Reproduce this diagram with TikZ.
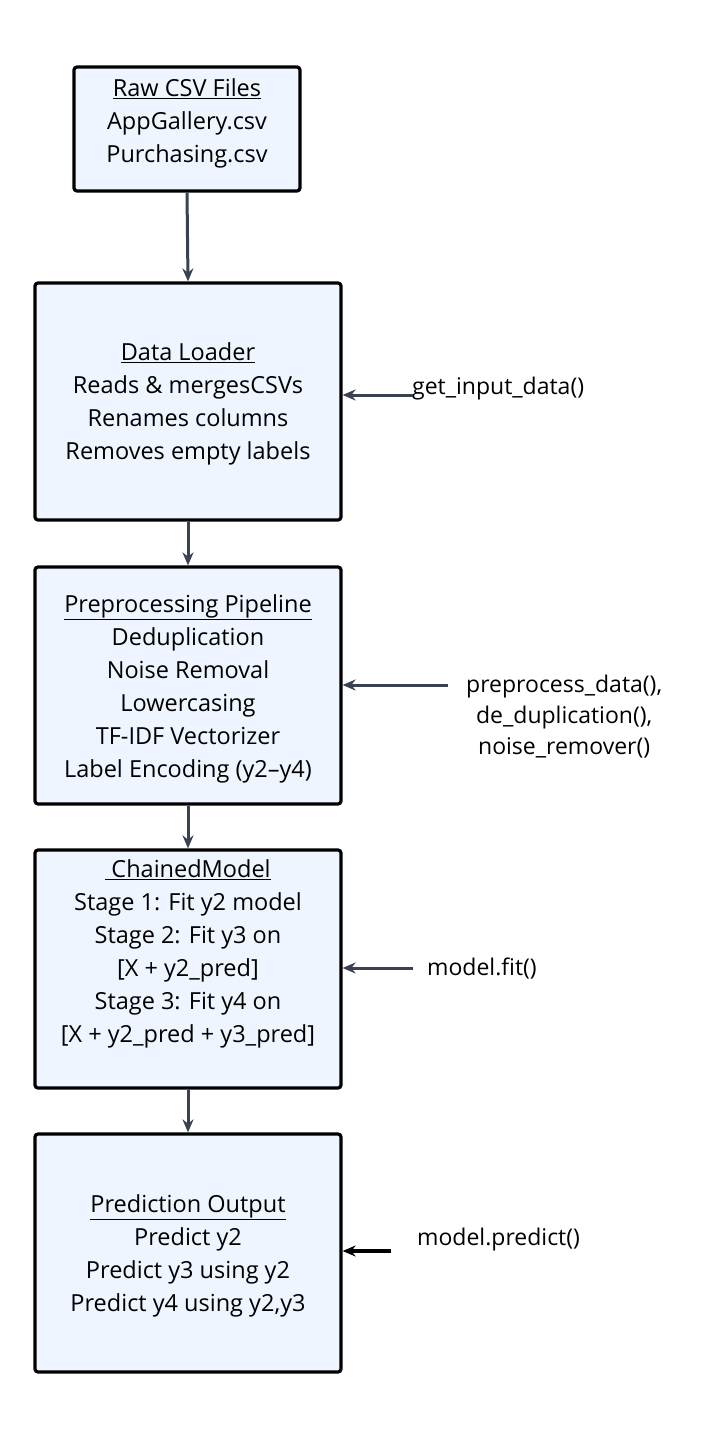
\documentclass[tikz,border=0pt]{standalone}
\usepackage{fontspec}
\setmainfont{Open Sans}
\usetikzlibrary{arrows.meta,calc}
\definecolor{boxfill}{HTML}{EEF5FE}
\definecolor{arrowc}{HTML}{3A4150}
\begin{document}
\begin{tikzpicture}[x=1pt,y=-1pt,
  box/.style={draw=black,line width=3.2pt,fill=boxfill,rounded corners=3pt,inner sep=0pt},
  txt/.style={align=center,font=\fontsize{23.5}{33}\selectfont,inner sep=0pt},
  side/.style={align=center,font=\fontsize{23}{31}\selectfont,inner sep=0pt,anchor=west},
  flow/.style={draw=arrowc,line width=3pt,-{Stealth[length=13pt,width=11pt]}}
]
\useasboundingbox (0,0) rectangle (719,1440);
% boxes
\node[box,minimum width=226pt,minimum height=124pt] (b1) at (187,129) {};
\node[box,minimum width=306pt,minimum height=237pt] (b2) at (188,401.5) {};
\node[box,minimum width=306pt,minimum height=237pt] (b3) at (188,685.5) {};
\node[box,minimum width=306pt,minimum height=238pt] (b4) at (188,969) {};
\node[box,minimum width=306pt,minimum height=238pt] (b5) at (188,1253) {};
% box texts
\node[txt] (t1) at (187,123) {\underline{Raw CSV Files}\\AppGallery.csv\\Purchasing.csv};
\node[txt] (t2) at (188,404) {\underline{Data Loader}\\Reads \& mergesCSVs\\Renames columns\\Removes empty labels};
\node[txt] (t3) at (188,689) {\underline{Preprocessing Pipeline}\\Deduplication\\Noise Removal\\Lowercasing\\TF-IDF Vectorizer\\Label Encoding (y2–y4)};
\node[txt] (t4) at (188,954) {\underline{\ ChainedModel}\\Stage 1: Fit y2 model\\Stage 2: Fit y3 on\\{[}X + y2\_pred{]}\\Stage 3: Fit y4 on\\{[}X + y2\_pred + y3\_pred{]}};
\node[txt] (t5) at (188,1256) {\underline{Prediction Output}\\Predict y2\\Predict y3 using y2\\Predict y4 using y2,y3};
% side labels
\node[side] (s2) at (412,389) {get\_input\_data()};
\node[side] (s3) at (466,717) {preprocess\_data(),\\de\_duplication(),\\noise\_remover()};
\node[side] (s4) at (427,969) {model.fit()};
\node[side] (s5) at (417,1240) {model.predict()};
% flow arrows
\draw[flow] (b1.south) -- (b2.north);
\draw[flow] (b2.south) -- (b3.north);
\draw[flow] (b3.south) -- (b4.north);
\draw[flow] (b4.south) -- (b5.north);
% side arrows
\coordinate (c2) at (413,395);
\coordinate (c3) at (448,685);
\coordinate (c4) at (413,968);
\coordinate (c5) at (391,1251);
\draw[flow] (c2) -- (b2.east |- c2);
\draw[flow] (c3) -- (b3.east |- c3);
\draw[flow] (c4) -- (b4.east |- c4);
\draw[flow,draw=black,line width=3.5pt] (c5) -- (b5.east |- c5);
\end{tikzpicture}
\end{document}
